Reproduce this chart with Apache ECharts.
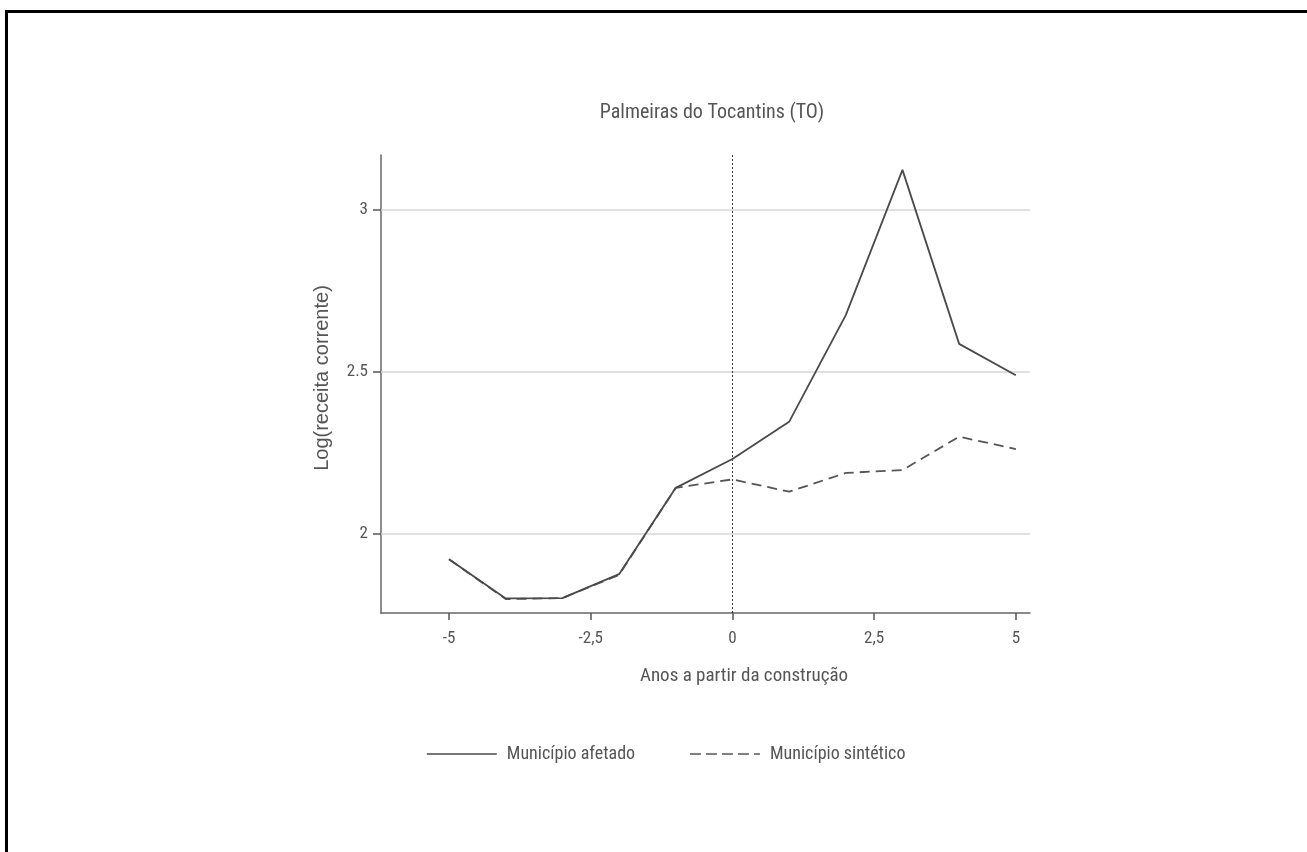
<!DOCTYPE html>
<html>
<head>
<meta charset="utf-8">
<script src="https://cdn.jsdelivr.net/npm/echarts@6/dist/echarts.min.js"></script>
<style>
html,body{margin:0;padding:0;background:#fff;}
#chart{width:1307px;height:852px;}
</style>
</head>
<body>
<div id="chart"></div>
<script>
var years = [-5, -4, -3, -2, -1, 0, 1, 2, 3, 4, 5];
var afetado = [1.920, 1.799, 1.800, 1.874, 2.141, 2.230, 2.345, 2.675, 3.124, 2.586, 2.489];
var sintetico = [1.920, 1.797, 1.800, 1.872, 2.141, 2.167, 2.129, 2.187, 2.196, 2.299, 2.261];
var xTicks = [-5, -2.5, 0, 2.5, 5];
var xTickLabels = ['-5', '-2,5', '0', '2,5', '5'];
var yTicks = [2, 2.5, 3];
var yTickLabels = ['2', '2.5', '3'];
var treatmentYear = 0;

var COND = "'Roboto Condensed','Liberation Sans Narrow','DejaVu Sans Condensed','Roboto',sans-serif";
var TXT = '#555';

var chart = echarts.init(document.getElementById('chart'));
function pairs(vals){ return years.map(function(y,i){ return [y, vals[i]]; }); }

chart.setOption({
  animation: false,
  backgroundColor: '#fff',
  title: {
    text: 'Palmeiras do Tocantins (TO)',
    left: 707, top: 98, textAlign: 'center',
    textStyle: {fontFamily: COND, fontSize: 20, fontWeight: 'normal', color: TXT}
  },
  grid: {left: 381, top: 155, width: 649, height: 458, containLabel: false},
  xAxis: {
    type: 'value', min: -6.2, max: 5.25,
    axisLine: {show: true, onZero: false, lineStyle: {color: '#666', width: 1.5}},
    axisTick: {show: true, customValues: xTicks, length: 7, lineStyle: {color: '#555', width: 1.5}},
    axisLabel: {customValues: xTicks, margin: 17, fontFamily: COND, fontSize: 17, color: TXT,
      formatter: function(v){ var i = xTicks.indexOf(v); return i >= 0 ? xTickLabels[i] : ''; }},
    splitLine: {show: false}
  },
  yAxis: {
    type: 'value', min: 1.754, max: 3.17,
    axisLine: {show: true, onZero: false, lineStyle: {color: '#666', width: 1.5}},
    axisTick: {show: true, customValues: yTicks, length: 8, lineStyle: {color: '#555', width: 1.5}},
    axisLabel: {customValues: yTicks, margin: 13, fontFamily: COND, fontSize: 17, color: TXT,
      formatter: function(v){ var i = yTicks.indexOf(v); return i >= 0 ? yTickLabels[i] : ''; }},
    splitLine: {show: false}
  },
  graphic: [
    {type: 'line', shape: {x1: 5, y1: 11.5, x2: 1307, y2: 11.5}, style: {stroke: '#000', lineWidth: 3}, z: 100},
    {type: 'line', shape: {x1: 6.5, y1: 10, x2: 6.5, y2: 852}, style: {stroke: '#000', lineWidth: 3}, z: 100},
    {type: 'text', x: 322, y: 378, rotation: Math.PI/2,
      style: {text: 'Log(receita corrente)', fontFamily: "'Liberation Sans','Roboto',sans-serif", fontSize: 20, fill: TXT, textAlign: 'center', textVerticalAlign: 'middle'}},
    {type: 'text', x: 744, y: 676,
      style: {text: 'Anos a partir da construção', fontFamily: COND, fontSize: 19, fill: TXT, textAlign: 'center', textVerticalAlign: 'middle'}}
  ],
  legend: {
    left: 421, top: 740, itemWidth: 70, itemHeight: 14, itemGap: 54,
    itemStyle: {opacity: 0},
    textStyle: {fontFamily: COND, fontSize: 18, color: TXT, padding: [0,0,0,5]},
    data: [
      {name: 'Município afetado', lineStyle: {width: 1.6}},
      {name: 'Município sintético', lineStyle: {width: 1.6, type: [11, 5]}}
    ]
  },
  series: [
    {
      name: 'Município afetado', type: 'line', data: pairs(afetado),
      showSymbol: false, symbol: 'none',
      lineStyle: {color: '#4a4a4a', width: 1.8, type: 'solid'},
      itemStyle: {color: '#4a4a4a'},
      z: 3,
      markLine: {
        silent: true, symbol: 'none', label: {show: false},
        data: yTicks.map(function(v){ return {yAxis: v}; }),
        lineStyle: {color: '#d6d6d6', width: 1.5, type: 'solid'},
        z: 1
      }
    },
    {
      name: 'Município sintético', type: 'line', data: pairs(sintetico),
      showSymbol: false, symbol: 'none',
      lineStyle: {color: '#555', width: 1.8, type: [10, 6]},
      itemStyle: {color: '#555'},
      z: 2,
      markLine: {
        silent: true, symbol: 'none', label: {show: false},
        data: [{xAxis: treatmentYear}],
        lineStyle: {color: '#333', width: 1, type: [2, 2]},
        z: 1
      }
    }
  ]
});
</script>
</body>
</html>
